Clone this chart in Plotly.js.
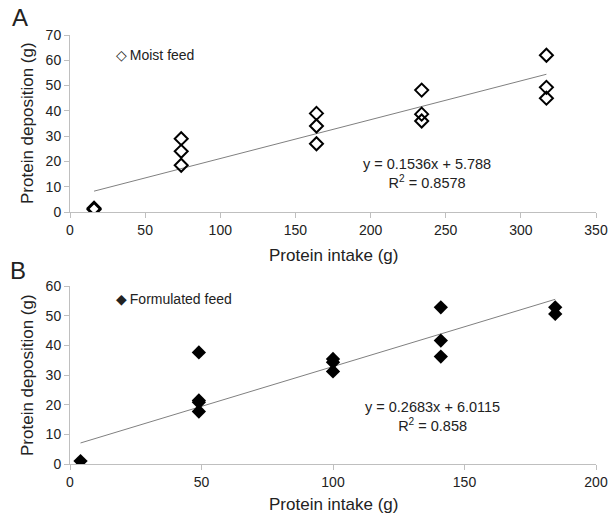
<!DOCTYPE html>
<html>
<head>
<meta charset="utf-8">
<script src="https://cdn.plot.ly/plotly-3.0.1.min.js"></script>
<style>html,body{margin:0;padding:0;background:#fff;}#chart{width:611px;height:514px;}</style>
</head>
<body>
<div id="chart"></div>
<script>
// Panel A: moist feed
const moistIntake = [16, 16, 74, 74, 74, 164, 164, 164, 234, 234, 234, 317, 317, 317];
const moistDeposition = [1, 1.5, 29, 24, 18.5, 39, 34, 27, 48.2, 38.7, 36, 62, 49.3, 45];
const moistFit = {slope: 0.1536, intercept: 5.788, r2: "0.8578"};
const moistLabel = "Moist feed";
// Panel B: formulated feed
const formIntake = [4, 49, 49, 49, 49, 100, 100, 100, 141, 141, 141, 184.5, 184.5];
const formDeposition = [1, 37.6, 21.4, 20.8, 17.7, 35.4, 34.3, 31.2, 52.8, 41.6, 36.2, 52.8, 50.6];
const formFit = {slope: 0.2683, intercept: 6.0115, r2: "0.858"};
const formLabel = "Formulated feed";

const xTitle = "Protein intake (g)";
const yTitle = "Protein deposition (g)";
const xTicksA = [0, 50, 100, 150, 200, 250, 300, 350];
const yTicksA = [0, 10, 20, 30, 40, 50, 60, 70];
const xTicksB = [0, 50, 100, 150, 200];
const yTicksB = [0, 10, 20, 30, 40, 50, 60];

function fitLine(xs, fit) {
  const x0 = Math.min(...xs), x1 = Math.max(...xs);
  return {x: [x0, x1], y: [fit.slope * x0 + fit.intercept, fit.slope * x1 + fit.intercept]};
}
const lineA = fitLine(moistIntake, moistFit);
const lineB = fitLine(formIntake, formFit);

const W = 611, H = 514;
const fontFam = '"Liberation Sans", Arial, sans-serif';
const txt = '#222';

const traces = [
  {x: lineA.x, y: lineA.y, mode: 'lines', line: {color: '#808080', width: 1}, showlegend: false, xaxis: 'x', yaxis: 'y', hoverinfo: 'skip'},
  {x: moistIntake, y: moistDeposition, mode: 'markers', name: moistLabel, showlegend: false,
   marker: {symbol: 'diamond-open', size: 10, color: '#000', line: {color: '#000', width: 2}}, xaxis: 'x', yaxis: 'y'},
  {x: lineB.x, y: lineB.y, mode: 'lines', line: {color: '#808080', width: 1}, showlegend: false, xaxis: 'x2', yaxis: 'y2', hoverinfo: 'skip'},
  {x: formIntake, y: formDeposition, mode: 'markers', name: formLabel, showlegend: false,
   marker: {symbol: 'diamond', size: 11, color: '#000'}, xaxis: 'x2', yaxis: 'y2'}
];

const axisCommon = {
  showgrid: false, zeroline: false, showline: true, linecolor: '#bfbfbf', linewidth: 1,
  ticks: 'outside', tickcolor: '#bfbfbf', ticklen: 5, tickwidth: 1,
  tickfont: {family: fontFam, size: 14, color: txt},
  automargin: false
};
const xdom = [70 / W, 596 / W];
const titleFont = {size: 17, family: fontFam, color: txt};

function label(text, px, py, opts) {
  return Object.assign({text: text, xref: 'paper', yref: 'paper', x: px / W, y: 1 - py / H,
    xanchor: 'center', yanchor: 'middle', showarrow: false, font: titleFont}, opts || {});
}

const layout = {
  width: W, height: H,
  margin: {l: 0, r: 0, t: 0, b: 0},
  paper_bgcolor: '#fff', plot_bgcolor: '#fff',
  font: {family: fontFam, color: txt},
  showlegend: false,
  xaxis: Object.assign({}, axisCommon, {domain: xdom, range: [0, 350], tickvals: xTicksA, anchor: 'y'}),
  yaxis: Object.assign({}, axisCommon, {domain: [1 - 212 / H, 1 - 35 / H], range: [0, 70], tickvals: yTicksA, anchor: 'x'}),
  xaxis2: Object.assign({}, axisCommon, {domain: xdom, range: [0, 200], tickvals: xTicksB, anchor: 'y2'}),
  yaxis2: Object.assign({}, axisCommon, {domain: [1 - 464 / H, 1 - 286 / H], range: [0, 60], tickvals: yTicksB, anchor: 'x2'}),
  annotations: [
    label(xTitle, 333, 255),
    label(yTitle, 27, 123, {textangle: -90}),
    label(xTitle, 333, 504),
    label(yTitle, 27, 375, {textangle: -90}),
    label('A', 10, 18, {xanchor: 'left', font: {family: fontFam, size: 24, color: txt}}),
    label('B', 8, 270, {xanchor: 'left', font: {family: fontFam, size: 24, color: txt}}),
    label('\u25C7\u2009' + moistLabel, 114, 55, {xanchor: 'left', font: {family: fontFam, size: 14, color: txt}}),
    label('\u25C6\u2009' + formLabel, 114, 299, {xanchor: 'left', font: {family: fontFam, size: 14, color: txt}}),
    label('y = ' + moistFit.slope + 'x + ' + moistFit.intercept + '<br>R<sup>2</sup> = ' + moistFit.r2, 427, 173,
      {align: 'center', font: {family: fontFam, size: 14.5, color: txt}}),
    label('y = ' + formFit.slope + 'x + ' + formFit.intercept + '<br>R<sup>2</sup> = ' + formFit.r2, 432, 416,
      {align: 'center', font: {family: fontFam, size: 14.5, color: txt}})
  ]
};

Plotly.newPlot('chart', traces, layout, {displayModeBar: false, staticPlot: true});
</script>
</body>
</html>
